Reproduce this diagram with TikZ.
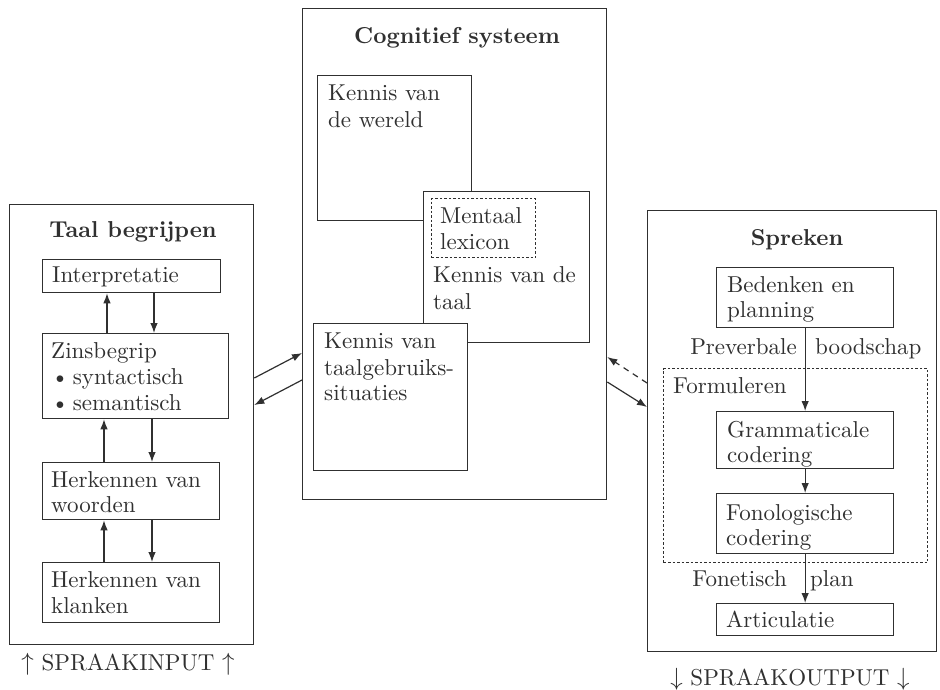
\documentclass[tikz,border=0pt]{standalone}
\usepackage{fontspec}
\setmainfont{lmroman10-regular.otf}[BoldFont=lmroman10-bold.otf, ItalicFont=lmroman10-italic.otf]
\usetikzlibrary{arrows.meta}
\definecolor{ink}{RGB}{48,48,48}
\tikzset{
  x=1pt, y=-1pt,
  every node/.style={font=\fontsize{23}{26}\selectfont, text=ink},
  box/.style={draw=ink, line width=1.3pt, fill=white, inner sep=0pt, anchor=north west},
  dotbox/.style={draw=ink, line width=1.1pt, dash pattern=on 2.5pt off 2pt, inner sep=0pt, anchor=north west},
  txt/.style={inner sep=0pt, anchor=base west},
  ttl/.style={inner sep=0pt, anchor=base, font=\fontsize{23}{26}\selectfont\bfseries},
  arr/.style={draw=ink, line width=1.2pt, -{Latex[length=10pt,width=7.5pt]}},
  dasharr/.style={arr, dash pattern=on 6pt off 5pt}
}
\begin{document}
\begin{tikzpicture}
\useasboundingbox[fill=white] (0,0) rectangle (940,689);

% ---------- Taal begrijpen ----------
\node[box, minimum width=244pt, minimum height=440pt] (tb) at (9,204) {};
\node[ttl] (tbt) at (133,237) {Taal begrijpen};

\node[box, minimum width=178pt, minimum height=33pt] (interp) at (42,259) {};
\node[txt] (interpt) at (52,282) {Interpretatie};

\node[box, minimum width=186pt, minimum height=85pt] (zins) at (42,333) {};
\node[txt] (zins1) at (51,358) {Zinsbegrip};
\node[txt] (zins2) at (51,384) {\textbullet\,syntactisch};
\node[txt] (zins3) at (51,410) {\textbullet\,semantisch};

\node[box, minimum width=177pt, minimum height=57pt] (woord) at (42,462) {};
\node[txt] (woord1) at (51,487) {Herkennen van};
\node[txt] (woord2) at (51,512) {woorden};

\node[box, minimum width=177pt, minimum height=60pt] (klank) at (42,562) {};
\node[txt] (klank1) at (51,587) {Herkennen van};
\node[txt] (klank2) at (51,613) {klanken};

\draw[arr] ([xshift=65pt]zins.north west) -- ([xshift=65pt]interp.south west);
\draw[arr] ([xshift=112pt]interp.south west) -- ([xshift=112pt]zins.north west);
\draw[arr] ([xshift=62pt]woord.north west) -- ([xshift=62pt]zins.south west);
\draw[arr] ([xshift=110pt]zins.south west) -- ([xshift=110pt]woord.north west);
\draw[arr] ([xshift=62pt]klank.north west) -- ([xshift=62pt]woord.south west);
\draw[arr] ([xshift=110pt]woord.south west) -- ([xshift=110pt]klank.north west);

\node[inner sep=0pt, anchor=base] (inp) at (128,670) {$\uparrow$ SPRAAKINPUT $\uparrow$};

% ---------- Cognitief systeem ----------
\node[box, minimum width=304pt, minimum height=491pt] (cs) at (302,8) {};
\node[ttl] (cst) at (457,43) {Cognitief systeem};

\node[box, minimum width=154pt, minimum height=145pt] (wereld) at (317,75) {};
\node[txt] (wereld1) at (328,100) {Kennis van};
\node[txt] (wereld2) at (328,127) {de wereld};

\node[box, minimum width=166pt, minimum height=151pt] (taal) at (423,191) {};
\node[dotbox, minimum width=104pt, minimum height=59pt] (lex) at (431,198) {};
\node[txt] (lex1) at (440,223) {Mentaal};
\node[txt] (lex2) at (440,249) {lexicon};
\node[txt] (taal1) at (433,282) {Kennis van de};
\node[txt] (taal2) at (433,309) {taal};

\node[box, minimum width=154pt, minimum height=147pt] (gebr) at (313,323) {};
\node[txt] (gebr1) at (324,348) {Kennis van};
\node[txt] (gebr2) at (324,375) {taalgebruiks-};
\node[txt] (gebr3) at (324,400) {situaties};

% ---------- Spreken ----------
\node[box, minimum width=289pt, minimum height=441pt] (sp) at (647,210) {};
\node[ttl] (spt) at (797,245) {Spreken};

\node[box, minimum width=177pt, minimum height=60pt] (plan) at (716,267) {};
\node[txt] (plan1) at (727,292) {Bedenken en};
\node[txt] (plan2) at (727,317) {planning};

\node[inner sep=0pt, anchor=base east] (prev) at (797,354) {Preverbale};
\node[txt] (bood) at (815,354) {boodschap};

\node[dotbox, minimum width=264pt, minimum height=194pt] (form) at (663,368) {};
\node[txt] (formt) at (673,393) {Formuleren};

\node[box, minimum width=177pt, minimum height=57pt] (gram) at (716,411) {};
\node[txt] (gram1) at (727,437) {Grammaticale};
\node[txt] (gram2) at (727,462) {codering};

\node[box, minimum width=177pt, minimum height=60pt] (fono) at (716,493) {};
\node[txt] (fono1) at (726,520) {Fonologische};
\node[txt] (fono2) at (726,545) {codering};

\node[inner sep=0pt, anchor=base east] (fonet) at (787,586) {Fonetisch};
\node[txt] (fplan) at (810,586) {plan};

\node[box, minimum width=177pt, minimum height=32pt] (art) at (716,603) {};
\node[txt] (artt) at (726,627) {Articulatie};

\draw[arr] (plan.south) -- (gram.north);
\draw[arr] (gram.south) -- (fono.north);
\draw[arr] (fono.south) -- (art.north);

\node[inner sep=0pt, anchor=base] (outp) at (790,685) {$\downarrow$ SPRAAKOUTPUT $\downarrow$};

% ---------- connections between the three systems ----------
\draw[arr] (tb.east |- 0,378) -- (cs.west |- 0,353);
\draw[arr] (cs.west |- 0,380) -- (tb.east |- 0,405);
\draw[dasharr] (sp.west |- 0,383) -- (cs.east |- 0,357);
\draw[arr] (cs.east |- 0,382) -- (sp.west |- 0,407);
\end{tikzpicture}
\end{document}
